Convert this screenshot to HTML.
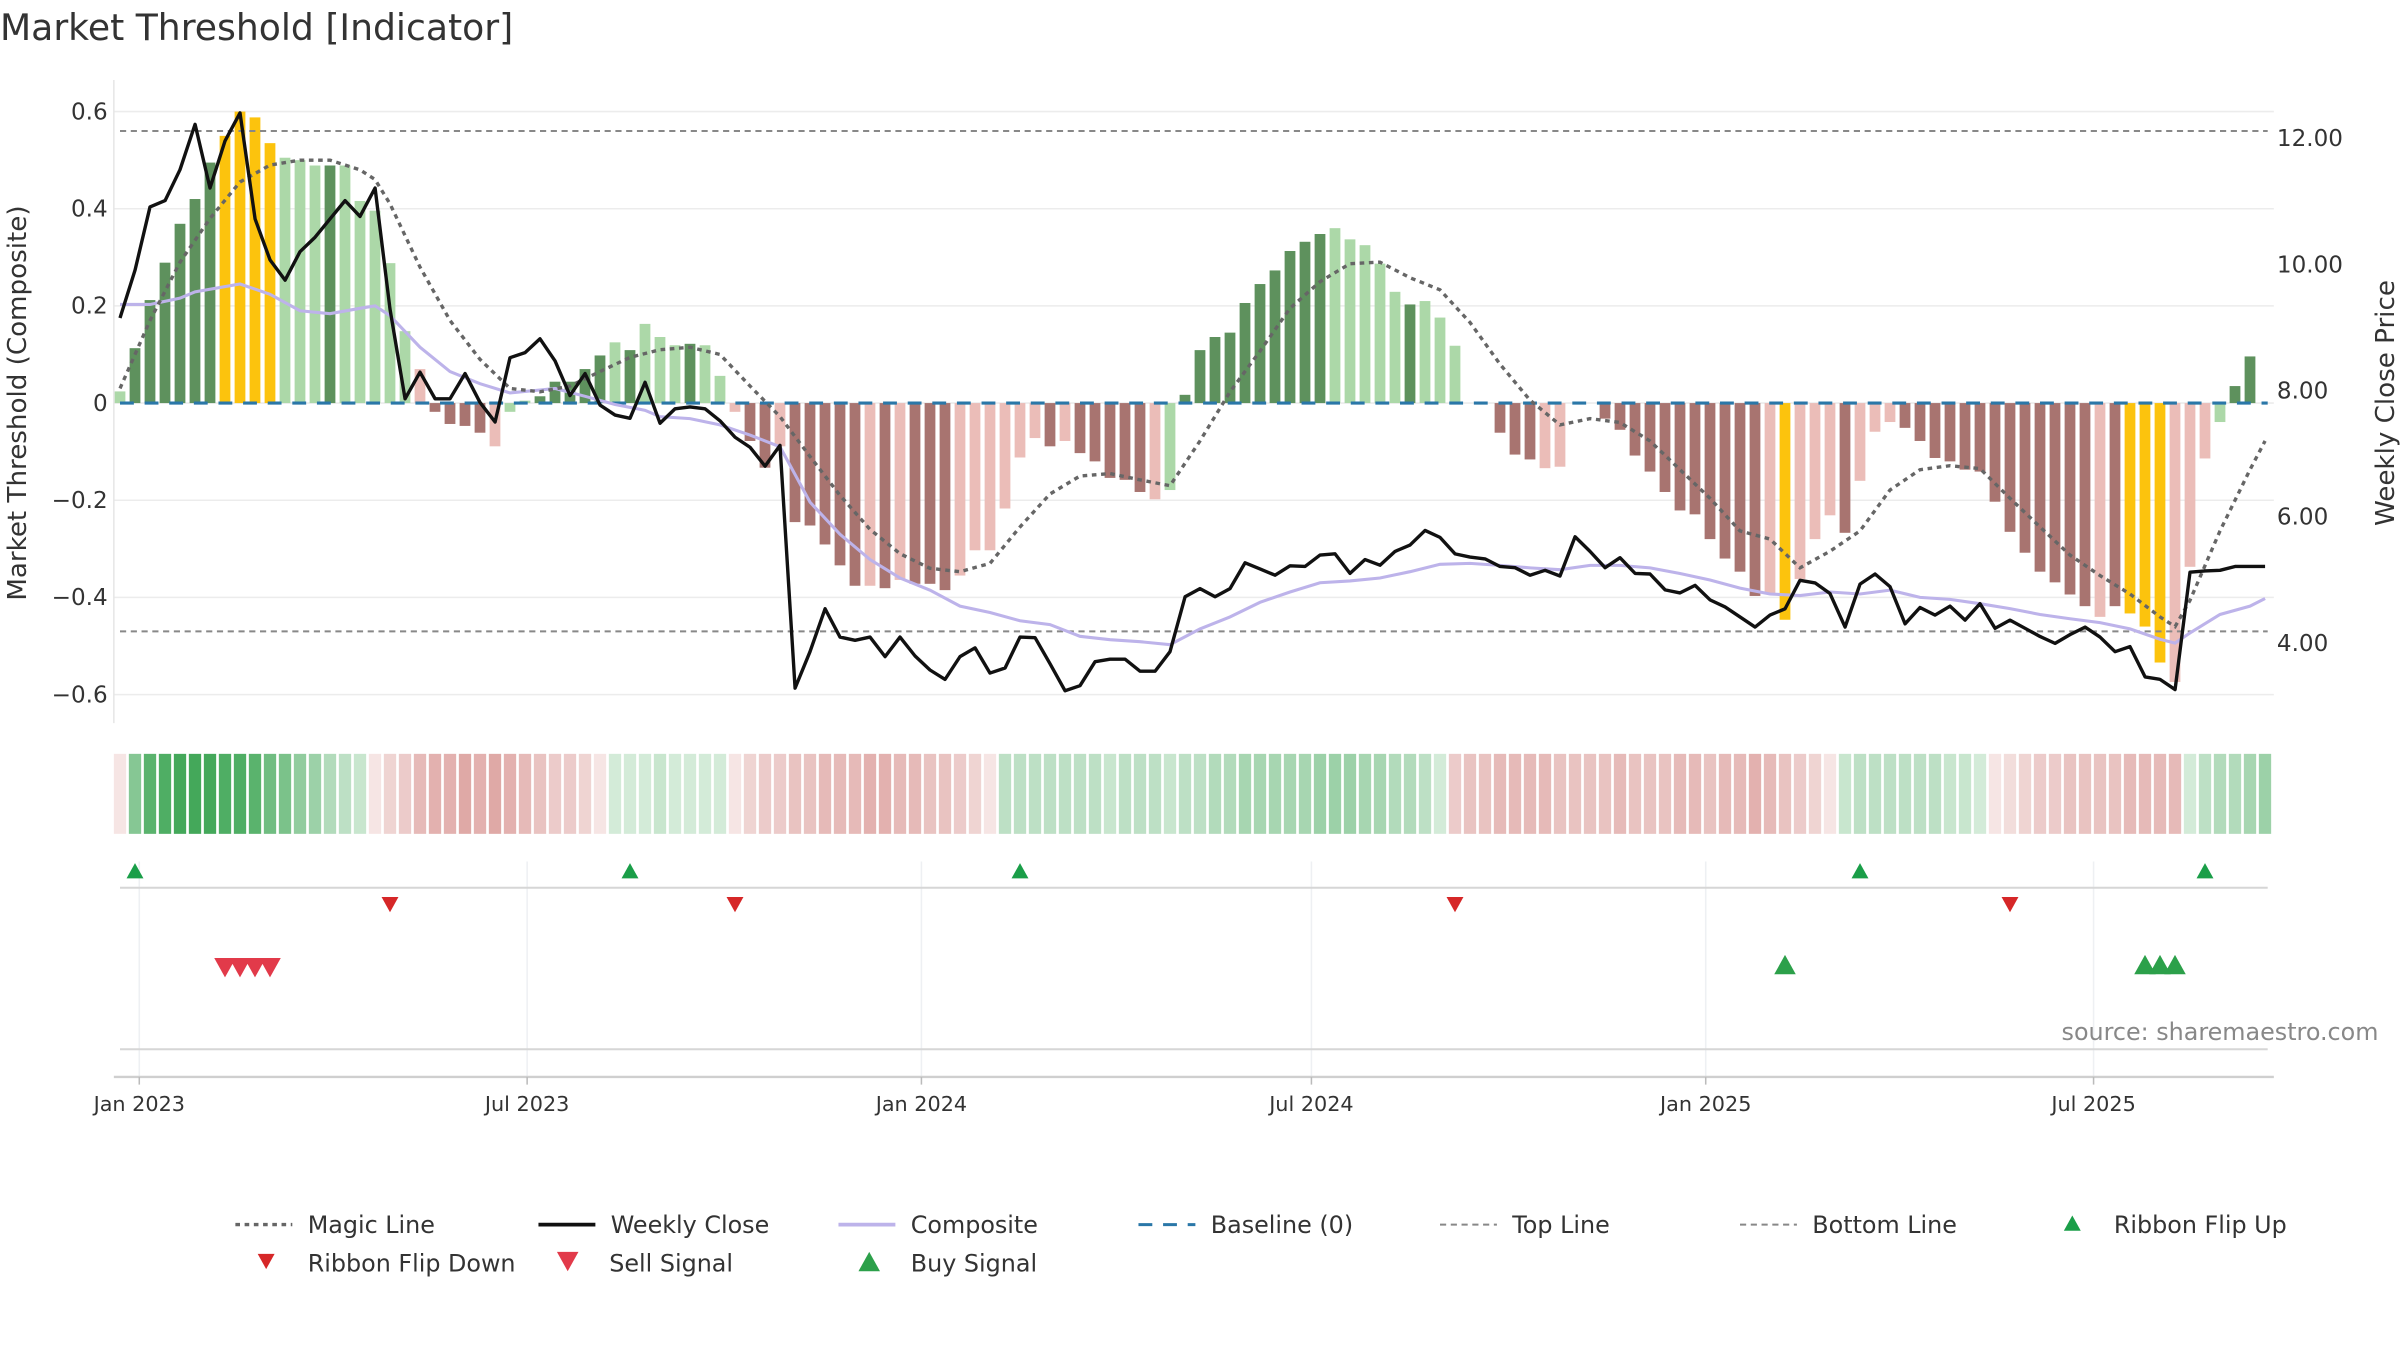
<!DOCTYPE html>
<html><head><meta charset="utf-8">
<style>
html,body{margin:0;padding:0;background:#fff;}
svg{display:block;font-family:"DejaVu Sans","Liberation Sans",sans-serif;}
</style></head>
<body>
<svg id="chart" width="2400" height="1350" viewBox="0 0 1560 877.5" xmlns="http://www.w3.org/2000/svg">
<text x="0" y="26" font-size="23.5" fill="#333">Market Threshold [Indicator]</text>
<g id="grid"></g>
<g id="bars"></g>
<g id="lines"></g>
<g id="axes"></g>
<g id="ribbon"></g>
<g id="signals"></g>
<text transform="translate(17,262) rotate(-90)" text-anchor="middle" font-size="17" fill="#333">Market Threshold (Composite)</text>
<text transform="translate(1556,262) rotate(-90)" text-anchor="middle" font-size="17" fill="#333">Weekly Close Price</text>
<text x="1546" y="676" text-anchor="end" font-size="15.5" fill="#888">source: sharemaestro.com</text>
<g id="legend"></g>
</svg>
<script>
const compValues=[0.024,0.113,0.212,0.289,0.369,0.42,0.495,0.55,0.60,0.588,0.535,0.505,0.50,0.489,0.489,0.489,0.416,0.396,0.288,0.148,0.07,-0.018,-0.043,-0.047,-0.061,-0.089,-0.018,0.005,0.014,0.044,0.044,0.07,0.098,0.125,0.109,0.163,0.136,
0.119,0.122,0.119,0.056,-0.018,-0.078,-0.133,-0.089,-0.245,-0.252,-0.291,-0.334,-0.376,-0.376,-0.381,-0.364,-0.372,-0.372,-0.385,-0.355,-0.303,-0.303,-0.217,-0.112,-0.072,-0.089,-0.078,-0.103,-0.12,-0.154,-0.158,-0.183,-0.198,-0.179,0.017,0.109,
0.136,0.145,0.206,0.245,0.273,0.313,0.332,0.348,0.36,0.337,0.325,0.287,0.229,0.203,0.21,0.176,0.118,0.043,0,-0.061,-0.106,-0.116,-0.134,-0.131,-0.013,0,-0.032,-0.055,-0.108,-0.141,-0.183,-0.221,-0.229,-0.28,-0.32,-0.347,-0.397,
-0.393,-0.446,-0.362,-0.28,-0.231,-0.267,-0.16,-0.059,-0.039,-0.051,-0.078,-0.113,-0.12,-0.137,-0.141,-0.203,-0.265,-0.308,-0.347,-0.369,-0.394,-0.418,-0.44,-0.418,-0.433,-0.46,-0.534,-0.574,-0.337,-0.114,-0.039,0.035,0.096,0.151];
const barKind="gGGGGGGYYYYgggGgggggrRRRRrggGGGGGgGgggGggrRRrRRRRRrRrRRRrrrrrrRrRRRRRrgGGGGGGGGGGgggggGggg_RRRRrr_rRRRRRRRRRRRrYrrrRrrrRRRRRRRRRRRRRrRYYYrrrgGG";
const closeValues=[9.13,9.89,10.89,10.99,11.48,12.20,11.19,11.94,12.38,10.70,10.05,9.73,10.18,10.41,10.70,10.99,10.74,11.19,9.27,7.85,8.27,7.85,7.85,8.25,7.79,7.48,8.50,8.58,8.80,8.45,7.90,8.25,7.75,7.59,7.54,8.11,7.46,
7.69,7.72,7.69,7.50,7.24,7.08,6.78,7.11,3.26,3.84,4.52,4.07,4.02,4.07,3.76,4.07,3.77,3.55,3.40,3.76,3.90,3.50,3.58,4.07,4.06,3.65,3.22,3.30,3.68,3.72,3.72,3.53,3.53,3.84,4.71,4.84,
4.71,4.84,5.25,5.15,5.05,5.20,5.19,5.37,5.39,5.08,5.30,5.21,5.43,5.53,5.76,5.65,5.39,5.34,5.31,5.19,5.17,5.05,5.13,5.04,5.66,5.43,5.17,5.33,5.08,5.07,4.82,4.77,4.89,4.66,4.55,4.39,4.23,
4.42,4.52,4.97,4.93,4.76,4.23,4.91,5.07,4.87,4.28,4.54,4.42,4.56,4.34,4.60,4.21,4.34,4.21,4.08,3.97,4.11,4.23,4.07,3.84,3.92,3.44,3.40,3.24,5.10,5.12,5.13,5.19,5.19,5.19];
const magicWeeks=[0,2,4,6,8,10,12,14,16,17,18,20,22,24,26,28,30,32,34,36,38,40,42,44,46,48,50,52,54,56,58,60,62,64,66,68,70,72,74,76,78,80,82,84,86,88,90,92,94,96,98,100,102,104,106,108,110,112,114,116,118,120,122,124,126,128,130,132,134,136,137,138,140,142,143];
const magicValues=[0.03,0.17,0.29,0.38,0.455,0.49,0.50,0.50,0.48,0.46,0.41,0.28,0.17,0.09,0.03,0.023,0.035,0.065,0.094,0.11,0.115,0.10,0.035,-0.028,-0.11,-0.19,-0.26,-0.31,-0.34,-0.347,-0.33,-0.255,-0.187,-0.15,-0.145,-0.158,-0.17,-0.078,0.023,0.107,0.195,0.25,0.287,0.29,0.258,0.233,0.166,0.08,0.006,-0.045,-0.032,-0.04,-0.078,-0.137,-0.196,-0.263,-0.28,-0.339,-0.305,-0.263,-0.179,-0.137,-0.129,-0.135,-0.196,-0.255,-0.313,-0.355,-0.393,-0.44,-0.46,-0.406,-0.263,-0.137,-0.078];
const compositeWeeks=[0,2,4,5,8,10,12,14,16,17,18,20,22,24,26,28,29,31,33,35,36,38,40,42,44,46,48,50,52,54,56,58,60,62,64,66,68,70,72,74,76,78,80,82,84,86,88,90,92,94,96,98,100,102,104,106,108,110,112,114,116,118,120,122,124,126,128,130,132,134,136,137,138,140,142,143];
const compositeValues=[0.203,0.203,0.216,0.229,0.245,0.224,0.19,0.184,0.195,0.20,0.18,0.115,0.065,0.04,0.021,0.027,0.03,0.014,-0.003,-0.015,-0.028,-0.032,-0.045,-0.066,-0.09,-0.204,-0.27,-0.322,-0.36,-0.385,-0.418,-0.431,-0.448,-0.456,-0.48,-0.487,-0.491,-0.497,-0.465,-0.44,-0.41,-0.389,-0.37,-0.366,-0.36,-0.347,-0.332,-0.33,-0.334,-0.339,-0.343,-0.334,-0.334,-0.339,-0.351,-0.364,-0.381,-0.393,-0.396,-0.389,-0.393,-0.385,-0.40,-0.404,-0.413,-0.423,-0.435,-0.444,-0.452,-0.465,-0.486,-0.494,-0.473,-0.435,-0.418,-0.402];
const ribbonValues=[-0.15,0.55,0.75,0.8,0.85,0.85,0.85,0.8,0.8,0.75,0.65,0.6,0.5,0.45,0.35,0.3,0.25,-0.15,-0.25,-0.3,-0.4,-0.45,-0.45,-0.5,-0.45,-0.5,-0.45,-0.4,-0.35,-0.3,-0.3,-0.25,-0.15,
0.2,0.2,0.2,0.25,0.2,0.2,0.2,0.2,
-0.15,-0.25,-0.3,-0.3,-0.35,-0.35,-0.4,-0.4,-0.4,-0.45,-0.45,-0.4,-0.4,-0.35,-0.35,-0.3,-0.25,-0.15,
0.3,0.3,0.3,0.3,0.3,0.3,0.3,0.25,0.3,0.3,0.3,0.25,0.3,0.3,0.35,0.35,0.4,0.4,0.4,0.4,0.4,0.45,0.45,0.45,0.4,0.4,0.35,0.35,0.3,0.2,
-0.3,-0.35,-0.35,-0.4,-0.4,-0.4,-0.4,-0.35,-0.35,-0.35,-0.35,-0.4,-0.35,-0.35,-0.35,-0.4,-0.4,-0.35,-0.4,-0.4,-0.45,-0.4,-0.35,-0.3,-0.25,-0.15,
0.25,0.3,0.3,0.3,0.3,0.3,0.3,0.25,0.25,0.2,
-0.15,-0.2,-0.25,-0.3,-0.3,-0.35,-0.35,-0.35,-0.35,-0.4,-0.4,-0.4,-0.4,
0.2,0.3,0.35,0.35,0.4,0.45];
const flipUpWeeks=[1,34,60,116,139];
const flipDownWeeks=[18,41,89,126];
const sellWeeks=[7,8,9,10];
const buyWeeks=[111,135,136,137];
const leftTicks=[0.6,0.4,0.2,0,-0.2,-0.4,-0.6];
const leftTickLabels=["0.6","0.4","0.2","0","\u22120.2","\u22120.4","\u22120.6"];
const rightTicks=[12,10,8,6,4];
const rightTickLabels=["12.00","10.00","8.00","6.00","4.00"];
const dateTicks=["2023-01-01","2023-07-01","2024-01-01","2024-07-01","2025-01-01","2025-07-01"];
const dateTickLabels=["Jan 2023","Jul 2023","Jan 2024","Jul 2024","Jan 2025","Jul 2025"];
const topLine=0.56, bottomLine=-0.47;

const NS="http://www.w3.org/2000/svg";
const X0=78, DX=9.75;
const startDate=new Date("2022-12-23T00:00:00Z");
function xw(k){return X0+k*DX;}
function xd(s){const d=(new Date(s+"T00:00:00Z")-startDate)/86400000;return X0+d*DX/7;}
function yl(v){return 262-v*315.8;}
function yr(p){return 253-(p-8)*41;}
function mk(tag,attrs,parent){const e=document.createElementNS(NS,tag);for(const k in attrs)e.setAttribute(k,attrs[k]);parent.appendChild(e);return e;}
const grid=document.getElementById('grid'),bars=document.getElementById('bars'),lines=document.getElementById('lines'),axes=document.getElementById('axes'),ribbon=document.getElementById('ribbon'),signals=document.getElementById('signals'),legend=document.getElementById('legend');

leftTicks.forEach((v,i)=>{
  const g=mk('line',{x1:74,x2:1478,y1:yl(v),y2:yl(v),stroke:'#ececec','stroke-width':1},grid);
  
  
  const t=mk('text',{x:70,y:yl(v)+5,'text-anchor':'end','font-size':15,fill:'#333'},axes);
  t.textContent=leftTickLabels[i];
  
  
});
const spine=mk('line',{x1:74,x2:74,y1:52,y2:470,stroke:'#e6e6e6','stroke-width':1},axes);


rightTicks.forEach((p,i)=>{
  const t=mk('text',{x:1480,y:yr(p)+6,'font-size':15,fill:'#333'},axes);
  t.textContent=rightTickLabels[i];
  
  
});
const colors={G:'#5e915d',g:'#acd8a8',R:'#a87470',r:'#ebbdb8',Y:'#fcc30d','_':'none'};
compValues.forEach((v,k)=>{
  const c=colors[barKind[k]]||'none';
  const y=Math.min(yl(v),yl(0)),h=Math.abs(yl(v)-yl(0));
  const b=mk('rect',{x:xw(k)-3.5,y:y,width:7,height:h,fill:c},bars);
  
  
});
[[topLine,'top-line'],[bottomLine,'bottom-line']].forEach(([v,n])=>{
  const l=mk('line',{x1:78,x2:1474,y1:yl(v),y2:yl(v),stroke:'#888','stroke-width':1.3,'stroke-dasharray':'4,3'},lines);
  
  
});
const base=mk('line',{x1:78,x2:1474,y1:yl(0),y2:yl(0),stroke:'#2a77a8','stroke-width':2,'stroke-dasharray':'9,7'},lines);


function poly(ws,vs,yf){return ws.map((w,i)=>xw(w).toFixed(1)+','+yf(vs[i]).toFixed(1)).join(' ');}
const comp=mk('polyline',{points:poly(compositeWeeks,compositeValues,yl),fill:'none',stroke:'#bdb3ea','stroke-width':2},lines);


const magic=mk('polyline',{points:poly(magicWeeks,magicValues,yl),fill:'none',stroke:'#666','stroke-width':2.2,'stroke-dasharray':'3,3'},lines);


const close=mk('polyline',{points:poly(closeValues.map((_,i)=>i),closeValues,yr),fill:'none',stroke:'#111','stroke-width':2.2,'stroke-linejoin':'round'},lines);


function mix(c,t){t=Math.min(1,t);return 'rgb('+c.map(v=>Math.round(255+(v-255)*t)).join(',')+')';}
ribbonValues.forEach((v,k)=>{
  const col=v>=0?mix([46,158,70],v*1.05):mix([200,105,100],-v*1.15);
  const r=mk('rect',{x:xw(k)-4,y:490,width:8,height:52,fill:col},ribbon);
  
  
});
[[577,'#d6d6d6'],[682,'#d6d6d6'],[700,'#cfcfcf']].forEach(([y,c])=>{
  const l=mk('line',{x1:y==700?74:78,x2:y==700?1478:1474,y1:y,y2:y,stroke:c,'stroke-width':y==700?1.6:1.3},axes);
  
  
});
dateTicks.forEach((d,i)=>{
  const x=xd(d);
  const g=mk('line',{x1:x,x2:x,y1:560,y2:700,stroke:'#eef0f3','stroke-width':1},grid);
  
  
  const tk=mk('line',{x1:x,x2:x,y1:700,y2:705,stroke:'#bbb','stroke-width':1},axes);
  
  
  const t=mk('text',{x:x,y:722,'text-anchor':'middle','font-size':13.5,fill:'#333'},axes);
  t.textContent=dateTickLabels[i];
  
  
});
function tri(x,y,s,up,fill,parent){const h=s*0.9;const pts=up?[[x-s/2,y+h/2],[x+s/2,y+h/2],[x,y-h/2]]:[[x-s/2,y-h/2],[x+s/2,y-h/2],[x,y+h/2]];return mk('polygon',{points:pts.map(p=>p.join(',')).join(' '),fill:fill},parent);}
flipUpWeeks.forEach(w=>{const t=tri(xw(w),566,11,true,'#1a9e48',signals);
  
  });
flipDownWeeks.forEach(w=>{const t=tri(xw(w),588,11,false,'#d62728',signals);
  
  });
sellWeeks.forEach(w=>{const t=tri(xw(w),629,14,false,'#e23a4a',signals);
  
  });
buyWeeks.forEach(w=>{const t=tri(xw(w),627,14,true,'#2ca04a',signals);
  
  });
const legItems=[
 {x:153,y:796,t:'Magic Line',k:'line',c:'#666',d:'3,3',w:2.2},
 {x:350,y:796,t:'Weekly Close',k:'line',c:'#111',d:'',w:2.4},
 {x:545,y:796,t:'Composite',k:'line',c:'#bdb3ea',d:'',w:2.4},
 {x:740,y:796,t:'Baseline (0)',k:'line',c:'#2a77a8',d:'9,7',w:2},
 {x:936,y:796,t:'Top Line',k:'line',c:'#888',d:'4,3',w:1.3},
 {x:1131,y:796,t:'Bottom Line',k:'line',c:'#888',d:'4,3',w:1.3},
 {x:1340,y:796,t:'Ribbon Flip Up',k:'up',c:'#1a9e48',s:11},
 {x:166,y:821,t:'Ribbon Flip Down',k:'down',c:'#d62728',s:11},
 {x:362,y:821,t:'Sell Signal',k:'down',c:'#e23a4a',s:14},
 {x:558,y:821,t:'Buy Signal',k:'up',c:'#2ca04a',s:14}];
legItems.forEach(it=>{
  const g=mk('g',{},legend);
  
  
  let tx;
  if(it.k==='line'){mk('line',{x1:it.x,x2:it.x+37,y1:it.y,y2:it.y,stroke:it.c,'stroke-width':it.w,'stroke-dasharray':it.d},g);tx=it.x+47;}
  else{tri(it.x+7,it.y-1,it.s,it.k==='up',it.c,g);tx=it.x+34;}
  const t=mk('text',{x:tx,y:it.y+5.5,'font-size':15.5,fill:'#333'},g);
  t.textContent=it.t;
});
</script>
</body></html>
